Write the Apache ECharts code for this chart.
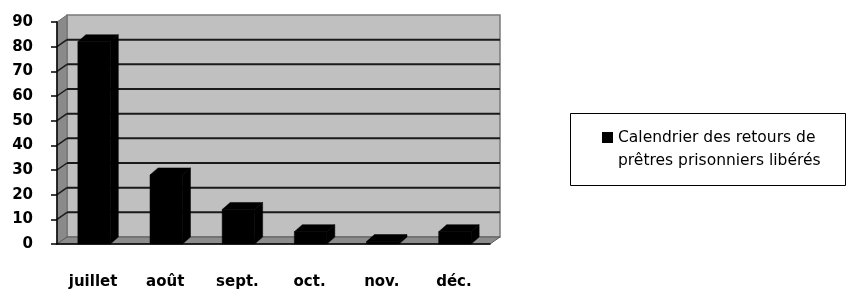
<!DOCTYPE html>
<html>
<head>
<meta charset="utf-8">
<script src="https://cdn.jsdelivr.net/npm/echarts@6/dist/echarts.min.js"></script>
<style>
  html, body { margin: 0; padding: 0; background: #fff; }
  #chart { width: 846px; height: 290px; }
</style>
</head>
<body>
<div id="chart"></div>
<script>
// données
var mois = ["juillet", "août", "sept.", "oct.", "nov.", "déc."];
var retours = [82, 28, 14, 5, 1, 5];
var graduations = [0, 10, 20, 30, 40, 50, 60, 70, 80, 90];
var nomSerie = "Calendrier des retours de prêtres prisonniers libérés";
var lignesLegende = ["Calendrier des retours de", "prêtres prisonniers libérés"];

var DX = 10, DY = -7;     // profondeur des parois
var BDX = 8, BDY = -7;    // profondeur des barres

var chart = echarts.init(document.getElementById("chart"));

function renderParois(params, api) {
    var cs = params.coordSys;
    var x0 = cs.x, x1 = cs.x + cs.width;
    var yBase = api.coord([0, 0])[1];
    var yTop = api.coord([0, graduations[graduations.length - 1]])[1];
    var kids = [];
    // paroi du fond
    kids.push({
        type: "rect",
        shape: { x: x0 + DX, y: yTop + DY, width: x1 - x0, height: yBase - yTop },
        style: { fill: "#c0c0c0", stroke: "#7a7a7a", lineWidth: 1.5 }
    });
    // paroi gauche
    kids.push({
        type: "polygon",
        shape: { points: [[x0, yBase], [x0, yTop], [x0 + DX, yTop + DY], [x0 + DX, yBase + DY]] },
        style: { fill: "#8a8a8a", stroke: "#6e6e6e", lineWidth: 1 }
    });
    // quadrillage
    graduations.forEach(function (v) {
        if (v === 0 || v === graduations[graduations.length - 1]) return;
        var y = api.coord([0, v])[1];
        kids.push({
            type: "line",
            shape: { x1: x0 + DX, y1: y + DY, x2: x1 + DX, y2: y + DY },
            style: { stroke: "#1a1a1a", lineWidth: 2 }
        });
        kids.push({
            type: "line",
            shape: { x1: x0, y1: y, x2: x0 + DX, y2: y + DY },
            style: { stroke: "#1a1a1a", lineWidth: 1.5 }
        });
    });
    // sol
    kids.push({
        type: "polygon",
        shape: { points: [[x0, yBase], [x1, yBase], [x1 + DX, yBase + DY], [x0 + DX, yBase + DY]] },
        style: { fill: "#8c8c8c", stroke: "#5a5a5a", lineWidth: 1 }
    });
    return { type: "group", children: kids };
}

function renderBarre(params, api) {
    var idx = api.value(0);
    var haut = api.coord([idx, api.value(1)]);
    var bas = api.coord([idx, 0]);
    var bw = api.size([1, 0])[0] * 0.45;
    var xa = haut[0] - bw / 2 + 1, xb = xa + bw;
    var yt = haut[1], yb = bas[1];
    var st = { fill: "#000", stroke: "#000", lineWidth: 0.5 };
    return {
        type: "group",
        children: [
            { type: "rect", shape: { x: xa, y: yt, width: bw, height: yb - yt }, style: st },
            { type: "polygon", shape: { points: [[xa, yt], [xb, yt], [xb + BDX, yt + BDY], [xa + BDX, yt + BDY]] }, style: st },
            { type: "polygon", shape: { points: [[xb, yt], [xb + BDX, yt + BDY], [xb + BDX, yb + BDY], [xb, yb]] }, style: st }
        ]
    };
}

var option = {
    animation: false,
    textStyle: { fontFamily: "DejaVu Sans" },
    grid: { left: 57, right: 356, top: 22, bottom: 46, outerBoundsMode: "none", containLabel: false },
    legend: {
        data: [nomSerie],
        left: 602,
        top: 103,
        padding: 0,
        icon: "rect",
        itemWidth: 11,
        itemHeight: 11,
        itemGap: 0,
        // ligne vide au-dessus pour caler le carré sur la première ligne
        formatter: function () { return " \n" + lignesLegende.join("\n"); },
        textStyle: {
            fontFamily: "DejaVu Sans",
            fontSize: 15.5,
            color: "#000",
            lineHeight: 23
        }
    },
    graphic: [{
        type: "rect",
        left: 570,
        top: 113,
        z: -1,
        shape: { width: 275, height: 72 },
        style: { fill: "#fff", stroke: "#000", lineWidth: 1 }
    }],
    xAxis: {
        type: "category",
        data: mois,
        z: 5,
        axisLine: { lineStyle: { color: "#000", width: 1.5 } },
        axisTick: { length: 7, lineStyle: { color: "#000", width: 1.5 } },
        axisLabel: { margin: 31, color: "#000", fontWeight: "bold", fontSize: 15, fontFamily: "DejaVu Sans" },
        splitLine: { show: false }
    },
    yAxis: {
        type: "value",
        min: 0,
        max: 90,
        interval: 10,
        z: 5,
        axisLine: { show: true, lineStyle: { color: "#000", width: 1.5 } },
        axisTick: { show: true, length: 6, lineStyle: { color: "#000", width: 1.5 } },
        axisLabel: { margin: 24, color: "#000", fontWeight: "bold", fontSize: 15, fontFamily: "DejaVu Sans" },
        splitLine: { show: false }
    },
    series: [{
        type: "custom",
        name: "parois",
        z: 1,
        silent: true,
        renderItem: renderParois,
        data: [[0, 0]],
        encode: { x: 0, y: 1 }
    }, {
        type: "custom",
        name: nomSerie,
        z: 3,
        itemStyle: { color: "#000" },
        renderItem: renderBarre,
        data: retours.map(function (v, i) { return [i, v]; }),
        encode: { x: 0, y: 1 }
    }]
};

chart.setOption(option);
</script>
</body>
</html>
